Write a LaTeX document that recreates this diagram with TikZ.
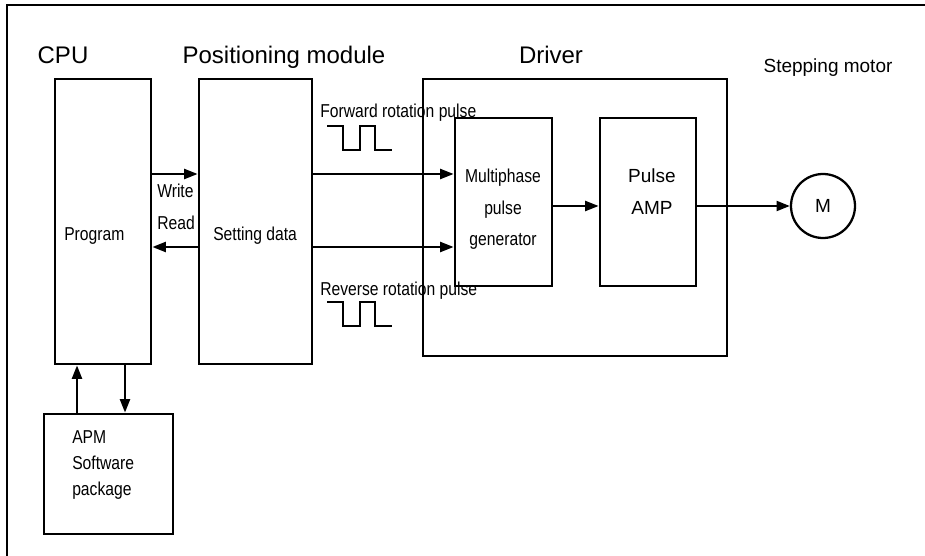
\documentclass[tikz,border=0pt]{standalone}
\usepackage{fontspec}
\setmainfont{Liberation Sans}
\newfontfamily\nf[FakeStretch=0.84]{Liberation Sans}
\usetikzlibrary{arrows.meta,fit}
\begin{document}
\begin{tikzpicture}[x=0.75pt,y=-0.75pt,
  box/.style={draw, line width=2.2pt, inner sep=0pt},
  arr/.style={line width=1.5pt, -{Triangle[length=10pt,width=7.5pt]}},
  wave/.style={line width=1.3pt},
  ttl/.style={font=\fontsize{18}{20}\selectfont, inner sep=0pt, anchor=base},
  lbl/.style={font=\nf\fontsize{14}{16}\selectfont, inner sep=0pt, anchor=base west},
  mid/.style={font=\fontsize{14.25}{16}\selectfont, inner sep=0pt, anchor=base},
  nmid/.style={font=\nf\fontsize{14}{16}\selectfont, inner sep=0pt, anchor=base}]
\useasboundingbox (0,0) rectangle (925,556);
% frame
\draw[line width=2pt] (7,556) -- (7,5) -- (925,5);
% titles
\node[ttl] (tcpu) at (63,64) {CPU};
\node[ttl] (tpos) at (284,64) {Positioning module};
\node[ttl] (tdrv) at (551,64) {Driver};
\node[mid] (tmot) at (828,73) {Stepping motor};
% boxes
\node[box, fit={(55,79)(151,364)}] (cpu) {};
\node[box, fit={(199,79)(312,364)}] (pos) {};
\node[box, fit={(423,79)(727,356)}] (drv) {};
\node[box, fit={(455,118)(552,286)}] (mp) {};
\node[box, fit={(600,118)(696,286)}] (amp) {};
\node[box, fit={(44,414)(173,534)}] (apm) {};
\node[draw, circle, line width=1.7pt, minimum size=48pt, inner sep=0pt,
      font=\fontsize{14.25}{16}\selectfont] (m) at (823,206) {M};
% box texts
\node[lbl] (tprog) at (64,240) {Program};
\node[lbl] (tset) at (213,240) {Setting data};
\node[lbl] (twrite) at (157,198) {Write};
\node[lbl] (tread) at (157,229) {Read};
\node[nmid] (tmp1) at (503,183) {Multiphase};
\node[nmid] (tmp2) at (503,215) {pulse};
\node[nmid] (tmp3) at (503,246) {generator};
\node[mid] (tamp1) at (652,183) {Pulse};
\node[mid] (tamp2) at (652,215) {AMP};
\node[lbl] (tapm1) at (72,443) {APM};
\node[lbl] (tapm2) at (72,469) {Software};
\node[lbl] (tapm3) at (72,495) {package};
\node[lbl] (tfwd) at (320,118) {Forward rotation pulse};
\node[lbl] (trev) at (320,295) {Reverse rotation pulse};
% pulse waveforms
\draw[wave] (327,126) -- ++(16,0) -- ++(0,24) -- ++(17,0) -- ++(0,-24) -- ++(15,0) -- ++(0,24) -- ++(17,0);
\draw[wave] (327,302) -- ++(16,0) -- ++(0,24) -- ++(17,0) -- ++(0,-24) -- ++(15,0) -- ++(0,24) -- ++(17,0);
% connectors
\coordinate (yW) at (0,174);
\coordinate (yR) at (0,247);
\coordinate (yM) at (0,206);
\coordinate (xU) at (77,0);
\coordinate (xD) at (125,0);
\draw[arr] (cpu.east |- yW) -- (pos.west |- yW);
\draw[arr] (pos.west |- yR) -- (cpu.east |- yR);
\draw[arr] (pos.east |- yW) -- (mp.west |- yW);
\draw[arr] (pos.east |- yR) -- (mp.west |- yR);
\draw[arr] (mp.east |- yM) -- (amp.west |- yM);
\draw[arr] (amp.east |- yM) -- (m.west);
\draw[arr] (apm.north -| xU) -- (cpu.south -| xU);
\draw[arr] (cpu.south -| xD) -- (apm.north -| xD);
\end{tikzpicture}
\end{document}
